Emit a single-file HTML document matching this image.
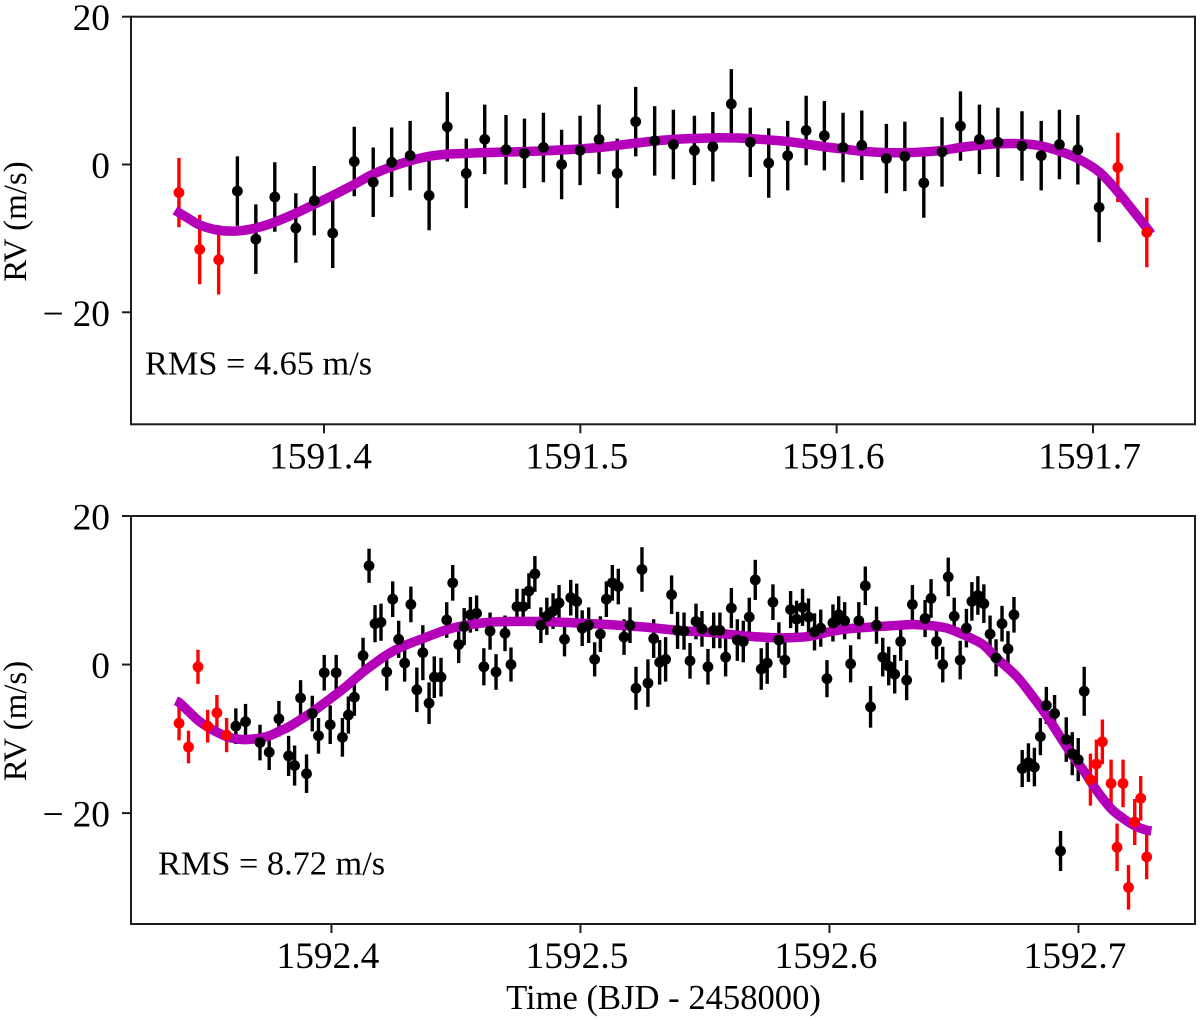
<!DOCTYPE html>
<html lang="en">
<head>
<meta charset="utf-8">
<title>RV time series</title>
<style>
html,body{margin:0;padding:0;background:#fff;}
svg{display:block;}
text{font-family:"Liberation Serif","Times New Roman",serif;fill:#000;}
</style>
</head>
<body>
<svg id="chart" xmlns="http://www.w3.org/2000/svg" width="1200" height="1019" viewBox="0 0 1200 1019">
<rect x="0" y="0" width="1200" height="1019" fill="#fff"/>
</svg>
<script>
/* ---------- Panel A data (night 1591) ---------- */
const aBlackTime = [1591.3662,1591.3734,1591.3808,1591.3890,1591.3962,1591.4034,1591.4118,1591.4192,1591.4264,1591.4336,1591.4410,1591.4481,1591.4555,1591.4627,1591.4710,1591.4782,1591.4856,1591.4927,1591.4999,1591.5073,1591.5144,1591.5216,1591.5290,1591.5363,1591.5445,1591.5517,1591.5589,1591.5663,1591.5735,1591.5809,1591.5881,1591.5952,1591.6025,1591.6098,1591.6194,1591.6266,1591.6340,1591.6411,1591.6483,1591.6557,1591.6629,1591.6723,1591.6798,1591.6869,1591.6941,1591.7024];
const aBlackRV = [-3.6,-10.1,-4.4,-8.6,-4.9,-9.3,0.4,-2.4,0.3,1.2,-4.2,5.1,-1.2,3.4,2.0,1.5,2.3,0.0,1.9,3.4,-1.2,5.8,3.2,2.7,1.9,2.4,8.2,3.0,0.2,1.2,4.6,3.9,2.3,2.6,0.8,1.1,-2.5,1.7,5.2,3.4,3.0,2.5,1.2,2.7,2.0,-5.8];
const aBlackErr = [4.7,4.7,4.7,4.7,4.7,4.7,4.7,4.7,4.7,4.7,4.7,4.7,4.7,4.7,4.7,4.7,4.7,4.7,4.7,4.7,4.7,4.7,4.7,4.7,4.7,4.7,4.7,4.7,4.7,4.7,4.7,4.7,4.7,4.7,4.7,4.7,4.7,4.7,4.7,4.7,4.7,4.7,4.7,4.7,4.7,4.7];
const aRedTime = [1591.3434,1591.3515,1591.3589,1591.7097,1591.7210];
const aRedRV = [-3.8,-11.5,-12.9,-0.4,-9.2];
const aRedErr = [4.7,4.7,4.7,4.7,4.7];
const aModelTime = [1591.3419,1591.3471,1591.3516,1591.3589,1591.3662,1591.3734,1591.3808,1591.3890,1591.3962,1591.4034,1591.4118,1591.4192,1591.4264,1591.4336,1591.4410,1591.4481,1591.4555,1591.4627,1591.4856,1591.5073,1591.5216,1591.5363,1591.5517,1591.5589,1591.5663,1591.5809,1591.5952,1591.6025,1591.6098,1591.6194,1591.6266,1591.6340,1591.6411,1591.6483,1591.6557,1591.6629,1591.6723,1591.6798,1591.6869,1591.6941,1591.7024,1591.7097,1591.7210,1591.7227];
const aModelRV = [-6.2,-7.3,-8.2,-8.9,-9.0,-8.6,-7.8,-6.6,-5.4,-4.2,-2.7,-1.3,-0.3,0.5,1.1,1.4,1.5,1.6,1.85,2.3,2.9,3.4,3.6,3.6,3.5,3.1,2.4,2.1,1.8,1.6,1.6,1.7,1.9,2.3,2.6,2.8,2.8,2.5,1.8,0.8,-1.0,-3.7,-8.6,-9.4];
const aXTicks = [1591.4,1591.5,1591.6,1591.7];
const aXTickLabels = ['1591.4','1591.5','1591.6','1591.7'];

/* ---------- Panel B data (night 1592) ---------- */
const bBlackTime = [1592.3616,1592.3655,1592.3713,1592.3750,1592.3789,1592.3828,1592.3852,1592.3876,1592.3900,1592.3923,1592.3948,1592.3971,1592.3995,1592.4019,1592.4044,1592.4068,1592.4092,1592.4127,1592.4151,1592.4175,1592.4199,1592.4222,1592.4246,1592.4270,1592.4294,1592.4319,1592.4343,1592.4367,1592.4392,1592.4413,1592.4440,1592.4463,1592.4487,1592.4511,1592.4533,1592.4558,1592.4583,1592.4612,1592.4637,1592.4661,1592.4697,1592.4721,1592.4745,1592.4770,1592.4793,1592.4817,1592.4841,1592.4865,1592.4890,1592.4914,1592.4936,1592.4961,1592.4985,1592.5007,1592.5033,1592.5057,1592.5080,1592.5104,1592.5128,1592.5152,1592.5175,1592.5199,1592.5223,1592.5247,1592.5271,1592.5294,1592.5318,1592.5342,1592.5366,1592.5390,1592.5416,1592.5440,1592.5464,1592.5488,1592.5512,1592.5535,1592.5560,1592.5583,1592.5606,1592.5630,1592.5654,1592.5678,1592.5702,1592.5726,1592.5750,1592.5773,1592.5797,1592.5821,1592.5844,1592.5868,1592.5892,1592.5916,1592.5940,1592.5965,1592.5990,1592.6014,1592.6037,1592.6061,1592.6085,1592.6118,1592.6144,1592.6165,1592.6189,1592.6214,1592.6238,1592.6262,1592.6286,1592.6310,1592.6333,1592.6384,1592.6408,1592.6430,1592.6455,1592.6477,1592.6501,1592.6525,1592.6550,1592.6572,1592.6596,1592.6620,1592.6645,1592.6669,1592.6693,1592.6717,1592.6741,1592.6774,1592.6799,1592.6823,1592.6847,1592.6871,1592.6904,1592.6928,1592.6951,1592.6975,1592.6999,1592.7023];
const bBlackRV = [-8.3,-7.7,-10.5,-11.8,-7.3,-12.3,-13.6,-4.5,-14.7,-6.6,-9.6,-1.1,-8.1,-1.1,-9.8,-6.8,-4.4,1.2,13.3,5.5,5.7,-1.0,8.8,3.4,0.2,8.1,-3.4,1.6,-5.2,-1.7,-1.7,6.0,11.0,2.7,5.1,6.7,6.9,-0.3,4.5,-1.0,4.2,0.0,7.8,7.8,9.9,12.2,5.3,6.5,7.2,8.3,3.4,9.0,8.5,4.9,5.3,0.7,4.1,8.8,11.0,10.5,3.7,5.3,-3.2,12.8,-2.5,3.5,0.3,0.7,9.4,4.6,4.5,0.5,5.8,4.8,-0.3,4.6,4.6,1.0,7.6,3.3,3.1,6.4,11.4,-0.6,0.2,8.4,3.3,0.6,7.4,6.1,7.7,6.4,4.4,4.9,-1.9,5.6,6.7,5.9,0.1,5.9,10.6,-5.7,5.3,1.0,-0.2,-1.3,3.1,-2.1,8.1,6.2,8.9,3.1,0.0,11.8,6.5,0.6,4.9,8.5,9.3,8.2,4.1,0.9,5.5,2.1,6.7,-14.0,-13.2,-13.8,-9.7,-5.5,-6.6,-25.1,-10.1,-12.0,-12.8,-3.6];
const bBlackErr = [2.4,2.4,2.4,2.4,2.4,2.7,2.7,2.4,2.6,2.4,2.4,2.4,2.6,2.4,2.6,2.5,2.5,2.4,2.3,2.5,2.5,2.5,2.4,2.5,2.5,2.4,3.0,3.7,2.8,2.8,2.6,2.4,2.4,2.5,2.5,2.4,2.4,2.5,2.5,2.4,2.4,2.3,2.4,2.4,2.4,2.4,2.4,2.5,2.4,2.4,2.3,2.4,2.4,2.4,2.4,2.3,2.4,2.4,2.4,2.4,2.4,2.4,2.9,3.0,3.2,2.6,3.0,3.0,2.6,2.5,2.5,2.4,2.4,2.4,2.4,2.4,2.4,2.6,2.7,2.8,2.8,2.6,2.7,2.8,2.8,2.4,2.4,2.4,2.5,2.5,2.5,2.5,2.5,2.5,2.5,2.5,2.5,2.5,2.5,2.5,2.6,2.8,2.5,2.6,2.6,2.6,2.6,2.7,2.6,2.5,2.6,2.4,2.4,2.6,2.5,2.6,2.6,2.6,2.6,2.6,2.5,2.5,2.4,2.4,2.4,2.5,2.6,2.6,2.5,2.5,2.5,2.7,3.0,2.9,2.9,3.3];
const bRedTime = [1592.3388,1592.3426,1592.3464,1592.3503,1592.3540,1592.3579,1592.7048,1592.7072,1592.7096,1592.7131,1592.7155,1592.7179,1592.7201,1592.7226,1592.7250,1592.7274];
const bRedRV = [-7.9,-11.1,-0.3,-8.3,-6.5,-9.5,-15.5,-13.4,-10.4,-16.0,-24.6,-16.0,-30.0,-21.2,-18.0,-25.9];
const bRedErr = [2.3,2.2,2.3,2.2,2.4,2.3,3.5,3.3,3.0,3.2,3.2,3.2,3.0,3.1,3.0,3.0];
const bModelTime = [1592.3375,1592.3388,1592.3426,1592.3464,1592.3503,1592.3540,1592.3579,1592.3616,1592.3655,1592.3713,1592.3750,1592.3789,1592.3828,1592.3876,1592.3923,1592.3971,1592.4019,1592.4068,1592.4127,1592.4175,1592.4222,1592.4270,1592.4319,1592.4367,1592.4413,1592.4463,1592.4511,1592.4558,1592.4637,1592.4721,1592.4817,1592.4890,1592.4985,1592.5080,1592.5175,1592.5271,1592.5390,1592.5488,1592.5560,1592.5630,1592.5702,1592.5797,1592.5892,1592.5940,1592.6014,1592.6085,1592.6189,1592.6286,1592.6333,1592.6384,1592.6430,1592.6477,1592.6525,1592.6572,1592.6620,1592.6670,1592.6752,1592.6823,1592.6871,1592.6926,1592.6975,1592.7023,1592.7072,1592.7131,1592.7179,1592.7226,1592.7274,1592.7293];
const bModelRV = [-4.9,-5.1,-6.3,-7.5,-8.4,-9.1,-9.7,-10.0,-10.1,-9.9,-9.6,-9.0,-8.4,-7.4,-6.4,-5.2,-4.0,-2.7,-1.0,0.2,1.3,2.2,2.9,3.5,4.1,4.7,5.1,5.4,5.7,5.8,5.8,5.75,5.6,5.45,5.25,5.0,4.6,4.4,4.2,3.95,3.75,3.6,3.7,3.95,4.5,4.85,5.1,5.3,5.4,5.3,5.15,4.85,4.2,3.5,2.6,0.9,-1.6,-4.6,-6.8,-9.7,-12.2,-14.4,-16.9,-19.4,-20.7,-21.7,-22.3,-22.4];
const bXTicks = [1592.4,1592.5,1592.6,1592.7];
const bXTickLabels = ['1592.4','1592.5','1592.6','1592.7'];

/* ---------- Shared axis data ---------- */
const yTicks = [20,0,-20];
const yTickLabels = ['20','0','\u221220'];

const svg = document.getElementById('chart');
const NS = 'http://www.w3.org/2000/svg';

function make(tag, attrs, parent) {
  const el = document.createElementNS(NS, tag);
  for (const k in attrs) el.setAttribute(k, attrs[k]);
  parent.appendChild(el);
  return el;
}

function smoothPath(pts) {
  let d = 'M' + pts[0][0].toFixed(2) + ' ' + pts[0][1].toFixed(2);
  for (let i = 0; i < pts.length - 1; i++) {
    const p0 = pts[Math.max(i - 1, 0)], p1 = pts[i], p2 = pts[i + 1], p3 = pts[Math.min(i + 2, pts.length - 1)];
    const c1x = p1[0] + (p2[0] - p0[0]) / 6, c1y = p1[1] + (p2[1] - p0[1]) / 6;
    const c2x = p2[0] - (p3[0] - p1[0]) / 6, c2y = p2[1] - (p3[1] - p1[1]) / 6;
    d += 'C' + c1x.toFixed(2) + ' ' + c1y.toFixed(2) + ' ' + c2x.toFixed(2) + ' ' + c2y.toFixed(2) + ' ' + p2[0].toFixed(2) + ' ' + p2[1].toFixed(2);
  }
  return d;
}

function drawPanel(p) {
  const xScale = t => p.left + (t - p.xMin) / (p.xMax - p.xMin) * (p.right - p.left);
  const yScale = v => p.bottom - (v - p.yMin) / (p.yMax - p.yMin) * (p.bottom - p.top);

  const g = make('g', {}, svg);
  
  

  /* error bars: below the model curve */
  const barsG = make('g', {}, g);
  
  
  p.series.forEach(s => {
    s.time.forEach((t, i) => {
      const bar = make('line', {x1: xScale(t), x2: xScale(t), y1: yScale(s.rv[i] + s.err[i]), y2: yScale(s.rv[i] - s.err[i]), stroke: s.color, 'stroke-width': 3.4}, barsG);
      
      
    });
  });

  /* model curve */
  const curve = make('path', {d: smoothPath(p.modelTime.map((t, i) => [xScale(t), yScale(p.modelRV[i])])), fill: 'none', stroke: '#b400b8', 'stroke-width': 9.5, 'stroke-linejoin': 'round'}, g);
  
  

  /* points: above the model curve */
  const ptsG = make('g', {}, g);
  
  
  p.series.forEach(s => {
    s.time.forEach((t, i) => {
      const dot = make('circle', {cx: xScale(t), cy: yScale(s.rv[i]), r: 5.4, fill: s.color}, ptsG);
      
      
    });
  });

  /* frame */
  const frame = make('rect', {x: p.left, y: p.top, width: p.right - p.left, height: p.bottom - p.top, fill: 'none', stroke: '#1c1c1c', 'stroke-width': 2}, g);
  
  

  /* x ticks */
  p.xTicks.forEach((v, i) => {
    const x = xScale(v);
    const tick = make('line', {x1: x, x2: x, y1: p.bottom, y2: p.bottom + 9, stroke: '#1c1c1c', 'stroke-width': 2}, g);
    
    
    const lab = make('text', {x: x - 3.5, y: p.bottom + 44, 'text-anchor': 'middle', 'font-size': 37.4}, g);
    lab.textContent = p.xTickLabels[i];
    
    
  });

  /* y ticks */
  yTicks.forEach((v, i) => {
    const y = yScale(v);
    const tick = make('line', {x1: p.left - 9, x2: p.left, y1: y, y2: y, stroke: '#1c1c1c', 'stroke-width': 2}, g);
    
    
    const lab = make('text', {x: 110, y: y + 13.5, 'text-anchor': 'end', 'font-size': 37.4}, g);
    const txt = yTickLabels[i];
    if (txt.charAt(0) === '\u2212') {
      const minus = make('tspan', {style: 'letter-spacing:9px'}, lab);
      minus.textContent = '\u2212';
      const rest = make('tspan', {}, lab);
      rest.textContent = txt.slice(1);
    } else {
      lab.textContent = txt;
    }
    
    
  });

  /* y axis title */
  const cy = (p.top + p.bottom) / 2 + 1;
  const yTitle = make('text', {x: 0, y: 0, transform: 'translate(26 ' + cy + ') rotate(-90)', 'text-anchor': 'middle', 'font-size': 33}, g);
  yTitle.textContent = 'RV (m/s)';
  
  

  /* RMS note */
  const note = make('text', {x: p.noteX, y: p.noteY, 'font-size': 34.3}, g);
  note.textContent = p.note;
  
  
}

drawPanel({
  name: 'top', left: 131, right: 1195, top: 16.7, bottom: 424.3,
  xMin: 1591.3247, xMax: 1591.7398, yMin: -35.16, yMax: 20,
  modelTime: aModelTime, modelRV: aModelRV,
  xTicks: aXTicks, xTickLabels: aXTickLabels,
  note: 'RMS = 4.65 m/s', noteX: 145, noteY: 374.5,
  series: [
    {label: 'in-transit', color: '#000', time: aBlackTime, rv: aBlackRV, err: aBlackErr},
    {label: 'out-of-transit', color: '#ff0000', time: aRedTime, rv: aRedRV, err: aRedErr}
  ]
});

drawPanel({
  name: 'bottom', left: 131, right: 1195, top: 516, bottom: 924,
  xMin: 1592.3195, xMax: 1592.7468, yMin: -34.93, yMax: 20,
  modelTime: bModelTime, modelRV: bModelRV,
  xTicks: bXTicks, xTickLabels: bXTickLabels,
  note: 'RMS = 8.72 m/s', noteX: 158, noteY: 874.5,
  series: [
    {label: 'in-transit', color: '#000', time: bBlackTime, rv: bBlackRV, err: bBlackErr},
    {label: 'out-of-transit', color: '#ff0000', time: bRedTime, rv: bRedRV, err: bRedErr}
  ]
});

const xTitle = make('text', {x: 663.5, y: 1009, 'text-anchor': 'middle', 'font-size': 34.6}, svg);
xTitle.textContent = 'Time (BJD - 2458000)';


</script>
</body>
</html>
